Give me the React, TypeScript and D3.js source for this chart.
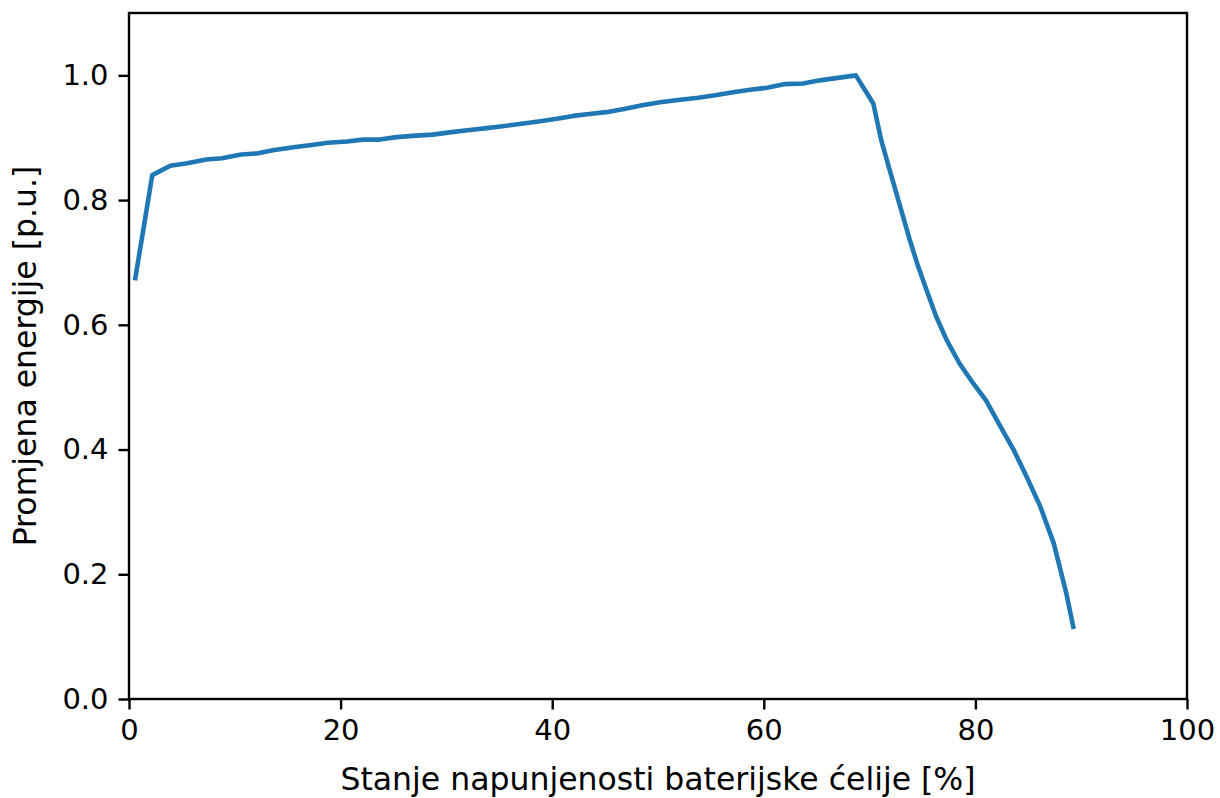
import React, { useEffect, useRef } from 'react';
import * as d3 from 'd3';

// state of charge [%]
const soc = [
  0.6, 2.2, 3.9, 5.5, 7.3, 8.8, 10.6, 12.2, 13.6, 15.7,
  17.1, 18.8, 20.6, 22.1, 23.7, 25.3, 26.8, 28.7, 30.5, 32.0,
  33.6, 35.1, 36.9, 38.7, 40.3, 42.0, 43.5, 45.1, 46.8, 48.5,
  50.2, 52.1, 53.8, 55.4, 57.1, 58.7, 60.3, 62.0, 63.7, 65.3,
  67.0, 68.7, 70.35, 71.1, 71.9, 72.9, 73.8, 74.6, 75.4, 76.3,
  77.3, 78.5, 79.8, 81.0, 82.4, 83.6, 84.8, 86.1, 87.4, 88.6,
  89.25,
];
// energy change [p.u.]
const energy = [
  0.675, 0.840, 0.855, 0.859, 0.865, 0.867, 0.873, 0.875, 0.880, 0.885,
  0.888, 0.892, 0.894, 0.897, 0.897, 0.901, 0.903, 0.905, 0.909, 0.912,
  0.915, 0.918, 0.922, 0.926, 0.930, 0.935, 0.938, 0.941, 0.946, 0.952,
  0.957, 0.961, 0.964, 0.968, 0.973, 0.977, 0.980, 0.986, 0.987, 0.992,
  0.996, 1.0, 0.955, 0.896, 0.848, 0.789, 0.736, 0.693, 0.655, 0.613,
  0.575, 0.538, 0.506, 0.479, 0.436, 0.400, 0.358, 0.310, 0.250, 0.169,
  0.116,
];
const xTicks = [0, 20, 40, 60, 80, 100];
const yTicks = [0, 0.2, 0.4, 0.6, 0.8, 1.0];

const width = 1220;
const height = 798;
const margin = { top: 13, right: 33, bottom: 99, left: 129 };
const font = 'DejaVu Sans, sans-serif';
const tickSize = 29;
const labelSize = 31.5;

export default function App() {
  const gx = useRef<SVGGElement>(null);
  const gy = useRef<SVGGElement>(null);

  const x = d3.scaleLinear([0, 100], [margin.left, width - margin.right]);
  const y = d3.scaleLinear([0, 1.1], [height - margin.bottom, margin.top]);

  const line = d3.line<number>()
    .x((d, i) => x(soc[i]))
    .y(d => y(d));

  useEffect(() => {
    const ax = d3.axisBottom(x).tickValues(xTicks).tickFormat(d3.format('d')).tickSize(10.5).tickPadding(10);
    const ay = d3.axisLeft(y).tickValues(yTicks).tickFormat(d3.format('.1f')).tickSize(10.5).tickPadding(10);
    for (const [ref, axis] of [[gx, ax], [gy, ay]] as const) {
      const g = d3.select(ref.current!);
      g.selectAll('*').remove();
      g.call(axis as any);
      g.select('.domain').remove();
      g.selectAll('.tick line').attr('stroke', '#000').attr('stroke-width', 2.4);
      g.selectAll('.tick text')
        .attr('fill', '#000')
        .style('font-family', font)
        .style('font-size', `${tickSize}px`);
    }
  }, []);

  const plotW = width - margin.left - margin.right;
  const plotH = height - margin.top - margin.bottom;

  return (
    <svg width={width} height={height} style={{ position: 'absolute', left: 0, top: 0, background: '#fff' }}>
      <path d={line(energy) ?? ''} fill="none" stroke="#1f77b4" strokeWidth={4.6} strokeLinejoin="round" strokeLinecap="square" />
      <rect x={margin.left} y={margin.top} width={plotW} height={plotH} fill="none" stroke="#000" strokeWidth={2.4} />
      <g ref={gx} transform={`translate(0,${height - margin.bottom})`} />
      <g ref={gy} transform={`translate(${margin.left},0)`} />
      <text x={margin.left + plotW / 2} y={790} textAnchor="middle" fontFamily={font} fontSize={labelSize}>
        Stanje napunjenosti baterijske ćelije [%]
      </text>
      <text transform={`translate(36,${margin.top + plotH / 2}) rotate(-90)`} textAnchor="middle" fontFamily={font} fontSize={labelSize}>
        Promjena energije [p.u.]
      </text>
    </svg>
  );
}
